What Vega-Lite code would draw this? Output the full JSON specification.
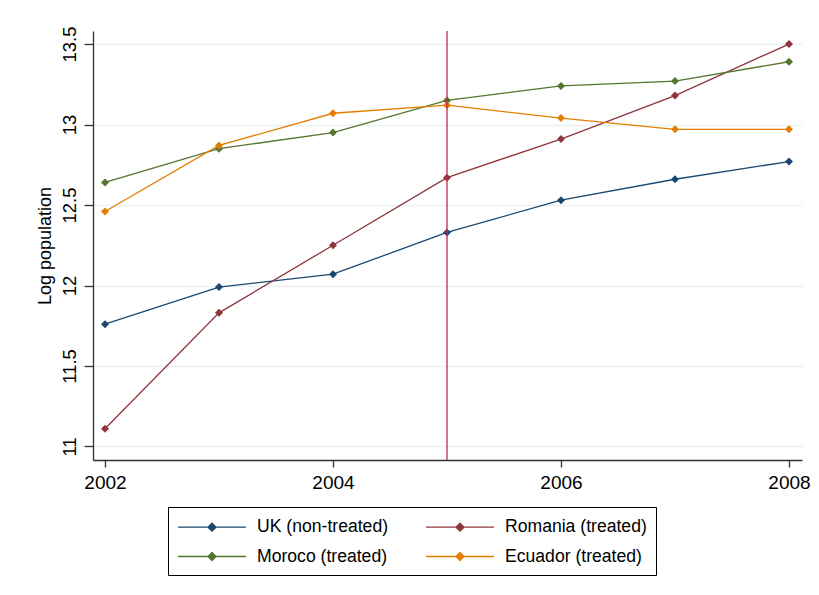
{
  "$schema": "https://vega.github.io/schema/vega-lite/v6.json",
  "width": 709,
  "height": 429,
  "autosize": "none",
  "padding": {"left": 93, "top": 31, "right": 17, "bottom": 135},
  "background": "white",
  "config": {
    "view": {"stroke": null},
    "font": "Liberation Sans",
    "axis": {"labelFont": "Liberation Sans", "titleFont": "Liberation Sans", "labelColor": "#000", "titleColor": "#000", "domainColor": "#333", "tickColor": "#333", "domainWidth": 1.3, "tickWidth": 1.3}
  },
  "layer": [
    {
      "data": {"values": [
        {"country": "UK (non-treated)", "year": 2002, "logpop": 11.76},
        {"country": "UK (non-treated)", "year": 2003, "logpop": 11.99},
        {"country": "UK (non-treated)", "year": 2004, "logpop": 12.07},
        {"country": "UK (non-treated)", "year": 2005, "logpop": 12.33},
        {"country": "UK (non-treated)", "year": 2006, "logpop": 12.53},
        {"country": "UK (non-treated)", "year": 2007, "logpop": 12.66},
        {"country": "UK (non-treated)", "year": 2008, "logpop": 12.77},
        {"country": "Romania (treated)", "year": 2002, "logpop": 11.11},
        {"country": "Romania (treated)", "year": 2003, "logpop": 11.83},
        {"country": "Romania (treated)", "year": 2004, "logpop": 12.25},
        {"country": "Romania (treated)", "year": 2005, "logpop": 12.67},
        {"country": "Romania (treated)", "year": 2006, "logpop": 12.91},
        {"country": "Romania (treated)", "year": 2007, "logpop": 13.18},
        {"country": "Romania (treated)", "year": 2008, "logpop": 13.5},
        {"country": "Moroco (treated)", "year": 2002, "logpop": 12.64},
        {"country": "Moroco (treated)", "year": 2003, "logpop": 12.85},
        {"country": "Moroco (treated)", "year": 2004, "logpop": 12.95},
        {"country": "Moroco (treated)", "year": 2005, "logpop": 13.15},
        {"country": "Moroco (treated)", "year": 2006, "logpop": 13.24},
        {"country": "Moroco (treated)", "year": 2007, "logpop": 13.27},
        {"country": "Moroco (treated)", "year": 2008, "logpop": 13.39},
        {"country": "Ecuador (treated)", "year": 2002, "logpop": 12.46},
        {"country": "Ecuador (treated)", "year": 2003, "logpop": 12.87},
        {"country": "Ecuador (treated)", "year": 2004, "logpop": 13.07},
        {"country": "Ecuador (treated)", "year": 2005, "logpop": 13.12},
        {"country": "Ecuador (treated)", "year": 2006, "logpop": 13.04},
        {"country": "Ecuador (treated)", "year": 2007, "logpop": 12.97},
        {"country": "Ecuador (treated)", "year": 2008, "logpop": 12.97}
      ]},
      "mark": {"type": "line", "strokeWidth": 1.3, "point": {"filled": true, "shape": "diamond", "size": 64, "opacity": 1}},
      "encoding": {
        "x": {"field": "year", "type": "quantitative",
          "scale": {"domain": [2001.895, 2008.114], "nice": false, "zero": false},
          "axis": {"values": [2002, 2004, 2006, 2008], "format": "d", "title": null, "grid": false, "tickSize": 7, "labelFontSize": 19, "labelPadding": 6, "labelFlush": false}},
        "y": {"field": "logpop", "type": "quantitative",
          "scale": {"domain": [10.916, 13.581], "nice": false, "zero": false},
          "axis": {"values": [11, 11.5, 12, 12.5, 13, 13.5], "format": ".3~g", "title": "Log population", "titleFontSize": 18, "titleFontWeight": "normal", "titlePadding": 6,
            "grid": true, "gridColor": "#eaf2f3", "gridWidth": 1.3, "tickSize": 9, "labelFontSize": 18.5, "labelAngle": 270, "labelAlign": "center", "labelBaseline": "alphabetic", "labelPadding": 9, "labelFlush": false}},
        "color": {"field": "country", "type": "nominal",
          "scale": {"domain": ["UK (non-treated)", "Moroco (treated)", "Romania (treated)", "Ecuador (treated)"], "range": ["#1a476f", "#55752f", "#90353b", "#e37e00"]},
          "legend": {"orient": "none", "legendX": 75, "legendY": 476, "columns": 2, "title": null,
            "strokeColor": "#000", "padding": 9, "symbolType": "M-3.4,0L3.4,0M0,-0.4L0.4,0L0,0.4L-0.4,0Z",
            "symbolSize": 400, "symbolStrokeWidth": 1.3, "symbolOffset": 24, "labelOffset": 34,
            "labelFont": "Liberation Sans", "labelFontSize": 17.6, "labelColor": "#000",
            "columnPadding": 34, "rowPadding": 9.5,
            "encode": {"symbols": {"update": {"fill": {"scale": "color", "field": "value"}, "stroke": {"scale": "color", "field": "value"}, "opacity": {"value": 1}}}}}
        }
      }
    },
    {
      "data": {"values": [{"year": 2005}]},
      "mark": {"type": "rule", "color": "#c42a55", "strokeWidth": 1.3},
      "encoding": {"x": {"field": "year", "type": "quantitative"}}
    }
  ]
}
